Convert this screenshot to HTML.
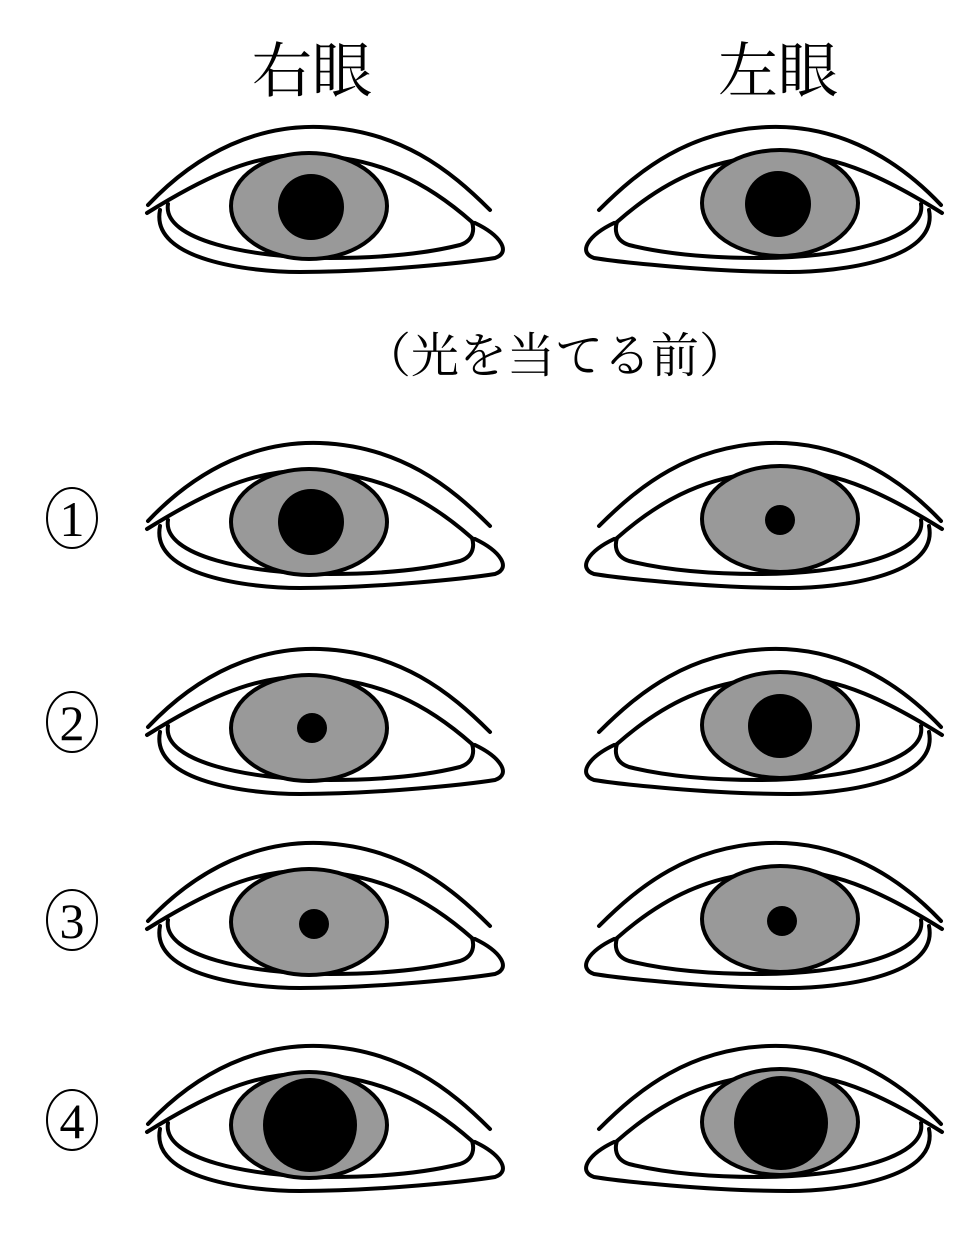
<!DOCTYPE html>
<html><head><meta charset="utf-8"><style>
html,body{margin:0;padding:0;background:#fff;width:980px;height:1240px;overflow:hidden}
svg text{font-family:"Liberation Serif","Noto Serif CJK JP",serif;fill:#000}
</style></head><body>
<svg width="980" height="1240" viewBox="0 0 980 1240" xmlns="http://www.w3.org/2000/svg">
<defs>
<g id="eye" fill="none" stroke="#000" stroke-width="4" stroke-linecap="round">
<path d="M148,205 C200,150 260,125 320,127 C400,130 450,170 490,210"/>
<path d="M147,213 C200,180 250,155 300,155 C380,155 430,185 472,222"/>
<path d="M168,204 C162,240 250,258 330,258 C400,258 440,250 460,245 C475,240 474,228 472,222"/>
<path d="M160,210 C150,260 250,272 300,272 C380,272 470,262 495,258 C512,252 500,235 475,223"/>
</g>
</defs>
<text x="312" y="92" font-size="60" text-anchor="middle">右眼</text>
<text x="778" y="92" font-size="60" text-anchor="middle">左眼</text>
<text x="555" y="372" font-size="48" text-anchor="middle" style="font-family:'Noto Serif CJK JP',serif">（光を当てる前）</text>
<g fill="none" stroke="#000" stroke-width="2">
<ellipse cx="72" cy="518" rx="25" ry="30"/>
<ellipse cx="72" cy="722" rx="25" ry="30"/>
<ellipse cx="72" cy="920" rx="25" ry="30"/>
<ellipse cx="72" cy="1120" rx="25" ry="30"/>
</g>
<g font-size="50" text-anchor="middle">
<text x="72" y="536">1</text>
<text x="72" y="740">2</text>
<text x="72" y="938">3</text>
<text x="72" y="1138">4</text>
</g>
<g stroke="#000" stroke-width="4">
<g><use href="#eye"/><ellipse cx="309" cy="206" rx="78" ry="53" fill="#999"/><circle cx="311" cy="207" r="33" fill="#000" stroke="none"/></g>
<g><g transform="translate(1089,0) scale(-1,1)"><use href="#eye"/></g><ellipse cx="780" cy="203" rx="78" ry="53" fill="#999"/><circle cx="778" cy="204" r="33" fill="#000" stroke="none"/></g>
<g transform="translate(0,316)"><use href="#eye"/><ellipse cx="309" cy="206" rx="78" ry="53" fill="#999"/><circle cx="311" cy="206" r="33" fill="#000" stroke="none"/></g>
<g transform="translate(0,316)"><g transform="translate(1089,0) scale(-1,1)"><use href="#eye"/></g><ellipse cx="780" cy="203" rx="78" ry="53" fill="#999"/><circle cx="780" cy="204" r="15" fill="#000" stroke="none"/></g>
<g transform="translate(0,522)"><use href="#eye"/><ellipse cx="309" cy="206" rx="78" ry="53" fill="#999"/><circle cx="312" cy="206" r="15" fill="#000" stroke="none"/></g>
<g transform="translate(0,522)"><g transform="translate(1089,0) scale(-1,1)"><use href="#eye"/></g><ellipse cx="780" cy="203" rx="78" ry="53" fill="#999"/><circle cx="780" cy="204" r="32" fill="#000" stroke="none"/></g>
<g transform="translate(0,716)"><use href="#eye"/><ellipse cx="309" cy="206" rx="78" ry="53" fill="#999"/><circle cx="314" cy="208" r="15" fill="#000" stroke="none"/></g>
<g transform="translate(0,716)"><g transform="translate(1089,0) scale(-1,1)"><use href="#eye"/></g><ellipse cx="780" cy="203" rx="78" ry="53" fill="#999"/><circle cx="782" cy="205" r="15" fill="#000" stroke="none"/></g>
<g transform="translate(0,919)"><use href="#eye"/><ellipse cx="309" cy="206" rx="78" ry="53" fill="#999"/><circle cx="310" cy="206" r="47" fill="#000" stroke="none"/></g>
<g transform="translate(0,919)"><g transform="translate(1089,0) scale(-1,1)"><use href="#eye"/></g><ellipse cx="780" cy="203" rx="78" ry="53" fill="#999"/><circle cx="781" cy="204" r="47" fill="#000" stroke="none"/></g>
</g>
</svg>
</body></html>
